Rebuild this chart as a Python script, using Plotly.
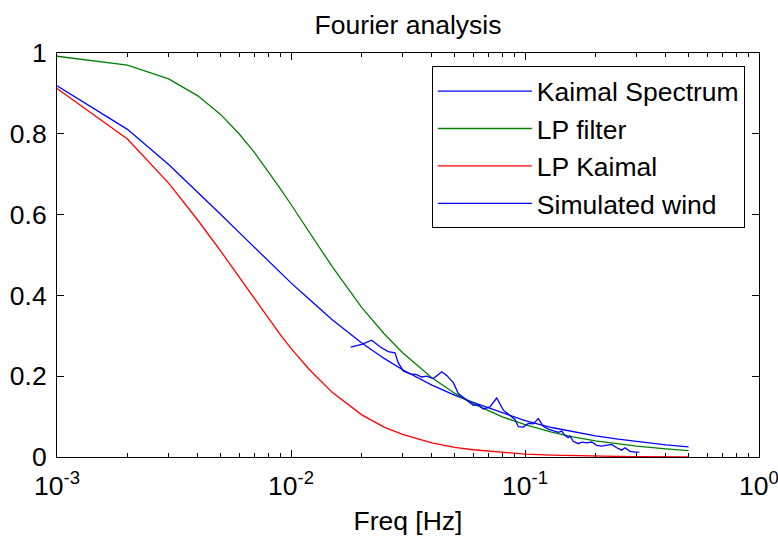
import plotly.graph_objects as go

# ---- data ----
freq = [0.001, 0.002, 0.003, 0.004, 0.005, 0.006, 0.007, 0.008, 0.009, 0.010,
        0.012, 0.015, 0.02, 0.025, 0.03, 0.04, 0.05, 0.06, 0.08, 0.1,
        0.13, 0.16, 0.2, 0.25, 0.3, 0.4, 0.5]

kaimal = [0.919, 0.811, 0.724, 0.656, 0.601, 0.556, 0.518, 0.485, 0.456, 0.431,
          0.390, 0.340, 0.283, 0.244, 0.216, 0.178, 0.153, 0.135, 0.110, 0.090,
          0.073, 0.063, 0.0525, 0.044, 0.038, 0.030, 0.025]

lp_filter = [0.992, 0.970, 0.936, 0.894, 0.848, 0.800, 0.753, 0.707, 0.664, 0.625,
             0.555, 0.471, 0.371, 0.305, 0.258, 0.196, 0.158, 0.132, 0.0995, 0.080,
             0.0614, 0.050, 0.040, 0.032, 0.0267, 0.020, 0.016]

lp_kaimal = [0.912, 0.787, 0.678, 0.586, 0.510, 0.445, 0.390, 0.343, 0.303, 0.269,
             0.216, 0.160, 0.105, 0.074, 0.056, 0.035, 0.024, 0.018, 0.011, 0.0072,
             0.0045, 0.0032, 0.0021, 0.0014, 0.0011, 0.0006, 0.0004]

wind_freq = [0.01799, 0.02005, 0.02213, 0.02400, 0.02604, 0.02782, 0.02874, 0.03019,
             0.03225, 0.03445, 0.03619, 0.03802, 0.04056, 0.04406, 0.04628, 0.04939,
             0.05188, 0.05541, 0.06013, 0.06316, 0.06634, 0.07086, 0.07568, 0.08078,
             0.08774, 0.09064, 0.09363, 0.09833, 0.1033, 0.1085, 0.1140, 0.1197,
             0.1258, 0.1344, 0.1388, 0.1435, 0.1482, 0.1531, 0.1557, 0.1608,
             0.1690, 0.1747, 0.1835, 0.1928, 0.2025, 0.2127, 0.2234, 0.2347,
             0.2466, 0.2590, 0.2676, 0.2810, 0.2952, 0.3080]

wind_amp = [0.272, 0.279, 0.289, 0.273, 0.261, 0.258, 0.233, 0.213,
            0.206, 0.204, 0.198, 0.200, 0.194, 0.211, 0.202, 0.184,
            0.157, 0.144, 0.128, 0.129, 0.119, 0.124, 0.146, 0.116,
            0.101, 0.093, 0.075, 0.074, 0.083, 0.082, 0.095, 0.076,
            0.069, 0.064, 0.061, 0.064, 0.053, 0.048, 0.052, 0.039,
            0.033, 0.037, 0.035, 0.037, 0.029, 0.027, 0.029, 0.031,
            0.023, 0.017, 0.023, 0.014, 0.012, 0.012]

series_names = ["Kaimal Spectrum", "LP filter", "LP Kaimal", "Simulated wind"]
series_colors = ["#0000FF", "#008000", "#FF0000", "#0000FF"]

x_tickvals = [0.001, 0.01, 0.1, 1]
x_ticktext = ["10<sup>-3</sup>", "10<sup>-2</sup>", "10<sup>-1</sup>", "10<sup>0</sup>"]
x_minorvals = [0.002, 0.003, 0.004, 0.005, 0.006, 0.007, 0.008, 0.009,
               0.02, 0.03, 0.04, 0.05, 0.06, 0.07, 0.08, 0.09,
               0.2, 0.3, 0.4, 0.5, 0.6, 0.7, 0.8, 0.9]
y_tickvals = [0, 0.2, 0.4, 0.6, 0.8, 1]
y_ticktext = ["0", "0.2", "0.4", "0.6", "0.8", "1"]

FONT = "Liberation Sans, Arial, sans-serif"
FS = 26.5

fig = go.Figure()
xs = [freq, freq, freq, wind_freq]
ys = [kaimal, lp_filter, lp_kaimal, wind_amp]
for name, color, x, y in zip(series_names, series_colors, xs, ys):
    fig.add_trace(go.Scatter(x=x, y=y, mode="lines", name=name,
                             line=dict(color=color, width=1.3)))

axis_common = dict(
    showline=True, linecolor="black", linewidth=1, mirror="ticks",
    ticks="inside", tickcolor="black", ticklen=7, tickwidth=1,
    showgrid=False, zeroline=False, automargin=False,
    tickfont=dict(family=FONT, size=FS, color="black"),
)

fig.update_xaxes(type="log", range=[-3, 0], tickvals=x_tickvals, ticktext=x_ticktext,
                 minor=dict(ticks="inside", ticklen=4, tickcolor="black",
                            tickvals=x_minorvals),
                 title=dict(text="Freq [Hz]", font=dict(family=FONT, size=FS, color="black"),
                            standoff=11),
                 ticklabelstandoff=5, ticklabeloverflow="allow",
                 **axis_common)
fig.update_yaxes(range=[0, 1], tickvals=y_tickvals, ticktext=y_ticktext,
                 ticklabelstandoff=4, **axis_common)

fig.update_layout(
    width=778, height=537,
    margin=dict(l=57, r=19, t=53, b=80, autoexpand=False),
    paper_bgcolor="white", plot_bgcolor="white",
    font=dict(family=FONT, size=FS, color="black"),
    title=dict(text="Fourier analysis", x=0.5, xref="paper", xanchor="center",
               y=1 - 25 / 537, yref="container", yanchor="middle",
               font=dict(family=FONT, size=FS, color="black")),
    legend=dict(x=0.534, y=0.967, xanchor="left", yanchor="top",
                bgcolor="white", bordercolor="black", borderwidth=1,
                font=dict(family=FONT, size=FS, color="black"),
                itemwidth=94, tracegroupgap=0),
    showlegend=True,
)

fig.write_html("out.html")
